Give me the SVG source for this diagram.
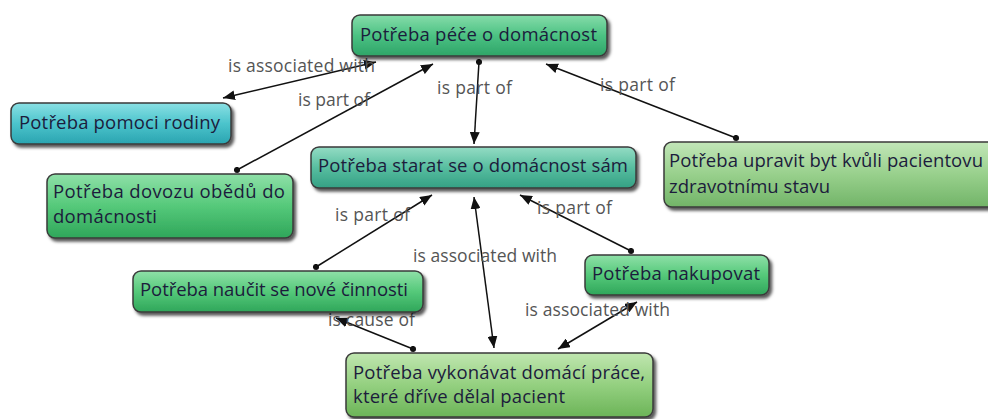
<svg xmlns="http://www.w3.org/2000/svg" width="988" height="419" viewBox="0 0 988 419">
<defs>
<linearGradient id="gGreen" x1="0" y1="0" x2="0" y2="1"><stop offset="0" stop-color="#8fe0a8"/><stop offset="0.5" stop-color="#55c97a"/><stop offset="1" stop-color="#2fa65a"/></linearGradient>
<linearGradient id="gMint" x1="0" y1="0" x2="0" y2="1"><stop offset="0" stop-color="#86dcaa"/><stop offset="0.5" stop-color="#4cc283"/><stop offset="1" stop-color="#2ea468"/></linearGradient>
<linearGradient id="gCyan" x1="0" y1="0" x2="0" y2="1"><stop offset="0" stop-color="#8ae0e4"/><stop offset="0.5" stop-color="#4cc4cc"/><stop offset="1" stop-color="#2aa4b0"/></linearGradient>
<linearGradient id="gTeal" x1="0" y1="0" x2="0" y2="1"><stop offset="0" stop-color="#94dcc4"/><stop offset="0.5" stop-color="#58bea0"/><stop offset="1" stop-color="#34a084"/></linearGradient>
<linearGradient id="gPale" x1="0" y1="0" x2="0" y2="1"><stop offset="0" stop-color="#c2e6b8"/><stop offset="0.5" stop-color="#98d08c"/><stop offset="1" stop-color="#72b468"/></linearGradient>
<linearGradient id="gLime" x1="0" y1="0" x2="0" y2="1"><stop offset="0" stop-color="#c0e6b0"/><stop offset="0.5" stop-color="#94d080"/><stop offset="1" stop-color="#6cb458"/></linearGradient>
<filter id="sh" x="-10%" y="-20%" width="130%" height="160%"><feDropShadow dx="2.5" dy="3" stdDeviation="1.8" flood-color="#000" flood-opacity="0.65"/></filter>
<marker id="arr" viewBox="0 0 12 10" refX="12" refY="5" markerWidth="12" markerHeight="10" orient="auto-start-reverse" markerUnits="userSpaceOnUse"><path d="M0,0 L12,5 L0,10 Z" fill="#111"/></marker>
<marker id="dot" viewBox="0 0 8 8" refX="4" refY="4" markerWidth="7" markerHeight="7" markerUnits="userSpaceOnUse"><circle cx="4" cy="4" r="3.5" fill="#111"/></marker>
<style>
.box{stroke:#3a3a3a;stroke-width:1.5;filter:url(#sh)}
.nt{font-family:"Open Sans","Noto Sans",sans-serif;font-size:18.5px;fill:#1c1c3c}
.lbl{font-family:"Open Sans","Noto Sans",sans-serif;font-size:17.5px;fill:#555}
.ln{stroke:#111;stroke-width:1.5;fill:none}
.one{marker-end:url(#arr);marker-start:url(#dot)}
.two{marker-end:url(#arr);marker-start:url(#arr)}
</style>
</defs>
<g id="connectors">
<line class="ln two" x1="223" y1="98" x2="376" y2="62"/>
<text class="lbl" x="228" y="72" textLength="147">is associated with</text>
<line class="ln one" x1="237" y1="170" x2="433" y2="64"/>
<text class="lbl" x="298" y="106" textLength="72">is part of</text>
<line class="ln one" x1="479" y1="62" x2="474" y2="144"/>
<text class="lbl" x="437" y="94" textLength="75">is part of</text>
<line class="ln one" x1="736" y1="138" x2="546" y2="64"/>
<text class="lbl" x="600" y="91" textLength="75">is part of</text>
<line class="ln one" x1="316" y1="267" x2="432" y2="195"/>
<text class="lbl" x="335" y="221" textLength="75">is part of</text>
<line class="ln two" x1="494" y1="348" x2="474" y2="197"/>
<text class="lbl" x="413" y="262" textLength="144">is associated with</text>
<line class="ln one" x1="631" y1="251" x2="520" y2="195"/>
<text class="lbl" x="537" y="214" textLength="75">is part of</text>
<line class="ln two" x1="558" y1="349" x2="637" y2="302"/>
<text class="lbl" x="525" y="316" textLength="145">is associated with</text>
<line class="ln one" x1="413" y1="349" x2="336" y2="318"/>
<text class="lbl" x="328" y="326" textLength="87">is cause of</text>
</g>
<g id="n1"><rect class="box" x="352" y="15" width="255" height="41" rx="8" fill="url(#gMint)"/><text class="nt" x="360" y="41" textLength="237">Potřeba péče o domácnost</text></g>
<g id="n2"><rect class="box" x="11" y="103" width="220" height="41" rx="8" fill="url(#gCyan)"/><text class="nt" x="19" y="129" textLength="201">Potřeba pomoci rodiny</text></g>
<g id="n3"><rect class="box" x="47" y="174" width="246" height="64" rx="8" fill="url(#gGreen)"/><text class="nt" x="53" y="198" textLength="232">Potřeba dovozu obědů do</text><text class="nt" x="53" y="223" textLength="104">domácnosti</text></g>
<g id="n4"><rect class="box" x="311" y="147" width="325" height="41" rx="8" fill="url(#gTeal)"/><text class="nt" x="318" y="172" textLength="310">Potřeba starat se o domácnost sám</text></g>
<g id="n5"><rect class="box" x="664" y="142" width="340" height="65" rx="8" fill="url(#gPale)"/><text class="nt" x="669" y="167" textLength="314">Potřeba upravit byt kvůli pacientovu</text><text class="nt" x="669" y="193" textLength="161">zdravotnímu stavu</text></g>
<g id="n6"><rect class="box" x="133" y="271" width="290" height="41" rx="8" fill="url(#gGreen)"/><text class="nt" x="140" y="296" textLength="268">Potřeba naučit se nové činnosti</text></g>
<g id="n7"><rect class="box" x="585" y="255" width="184" height="40" rx="8" fill="url(#gGreen)"/><text class="nt" x="592" y="280" textLength="168">Potřeba nakupovat</text></g>
<g id="n8"><rect class="box" x="346" y="353" width="307" height="64" rx="8" fill="url(#gLime)"/><text class="nt" x="353" y="379" textLength="292">Potřeba vykonávat domácí práce,</text><text class="nt" x="353" y="403" textLength="212">které dříve dělal pacient</text></g>
</svg>
